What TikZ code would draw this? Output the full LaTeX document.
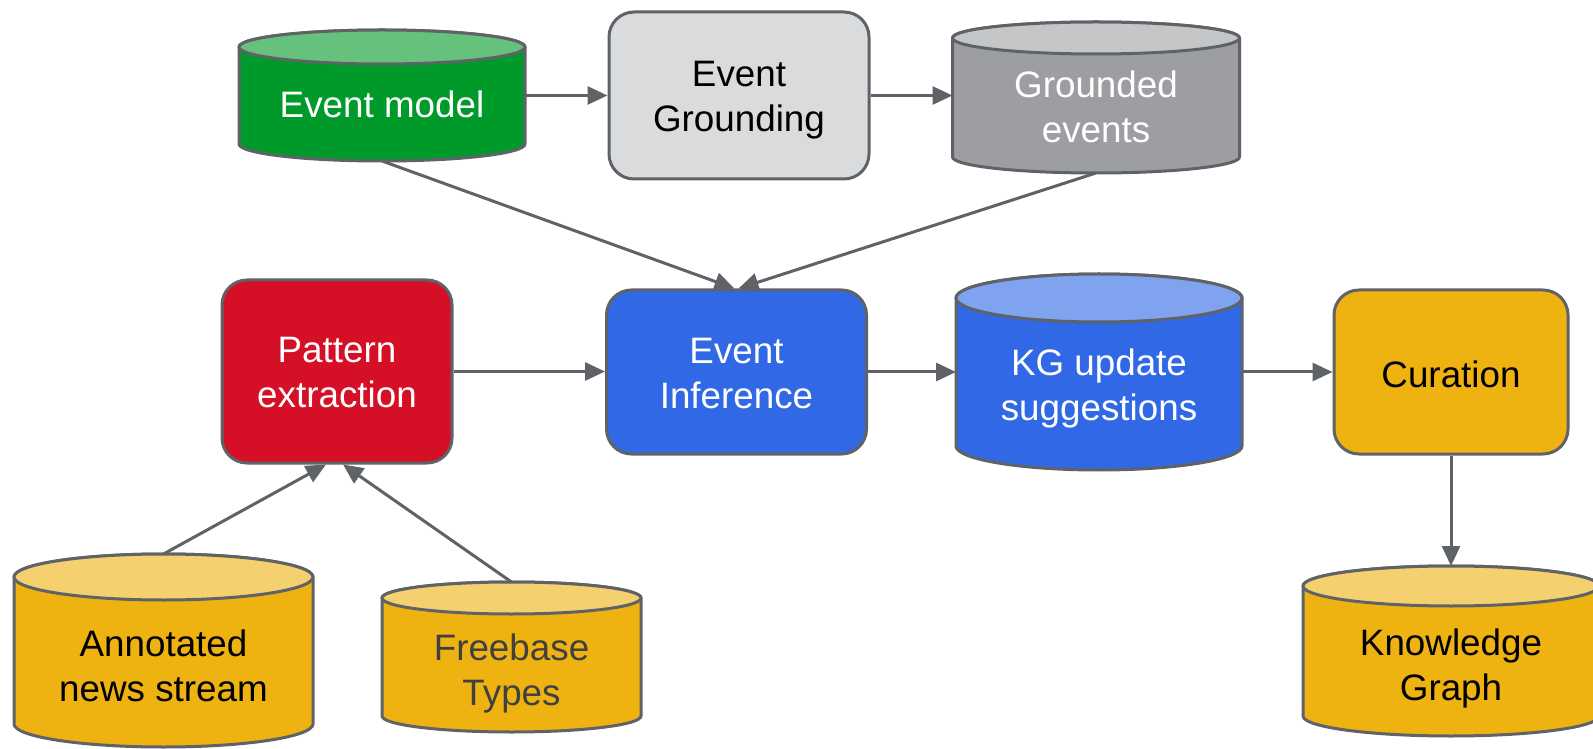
\documentclass[tikz,border=0pt]{standalone}
\usepackage{fontspec}
\setmainfont{Liberation Sans}
\usetikzlibrary{arrows.meta}
\definecolor{lc}{HTML}{5F6368}
\definecolor{gbody}{HTML}{009A2A}
\definecolor{gtop}{HTML}{66C17C}
\definecolor{greybox}{HTML}{DADBDD}
\definecolor{gcbody}{HTML}{9D9EA2}
\definecolor{gctop}{HTML}{C5C6C8}
\definecolor{redbox}{HTML}{D50F25}
\definecolor{bbody}{HTML}{3168E5}
\definecolor{btop}{HTML}{80A3F0}
\definecolor{ybody}{HTML}{EEB211}
\definecolor{ytop}{HTML}{F4D06F}
\definecolor{dtext}{HTML}{404040}
\tikzset{
  txt/.style={font=\fontsize{36.8}{45}\selectfont, align=center, inner sep=0pt},
  procbox/.style={draw=lc, line width=3pt, rounded corners=25pt, inner sep=0pt},
  arr/.style={draw=lc, line width=3pt, -{Triangle[length=20pt,width=18pt]}},
  cylline/.style={draw=lc, line width=3pt, line join=round}
}
\newcommand\dbcyl[8]{%
  \path[cylline, fill=#7] (#2-#4,#3+#5-#6) -- (#2-#4,#3-#5+#6)
     arc[start angle=180, end angle=360, x radius=#4, y radius=#6]
     -- (#2+#4,#3+#5-#6)
     arc[start angle=0, end angle=180, x radius=#4, y radius=#6] -- cycle;
  \path[cylline, fill=#8] (#2,#3+#5-#6) ellipse[x radius=#4, y radius=#6];
  \node[inner sep=0pt, outer sep=0pt, minimum width={(2*#4)*1pt}, minimum height={(2*#5)*1pt}] (#1) at (#2,#3) {};
}
\begin{document}
\begin{tikzpicture}[x=1pt,y=1pt]
\clip (0,0) rectangle (1593,748);
\useasboundingbox (0,0) rectangle (1593,748);

% cylinders
\dbcyl{em}{382}{652.5}{143}{65.5}{17}{gbody}{gtop}
\node[txt, text=white] (emt) at (382,644) {Event model};

\dbcyl{ge}{1096}{650.5}{143.5}{75.5}{16}{gcbody}{gctop}
\node[txt, text=white] (get) at (1096,641) {Grounded\\events};

\dbcyl{kg}{1099}{376}{143}{98}{24}{bbody}{btop}
\node[txt, text=white] (kgt) at (1099,360) {KG update\\suggestions};

\dbcyl{an}{163.5}{97.5}{149.5}{96.5}{23}{ybody}{ytop}
\node[txt, text=black] (ant) at (163.5,82) {Annotated\\news stream};

\dbcyl{fb}{511.5}{91}{129.5}{75}{16}{ybody}{ytop}
\node[txt, text=dtext] (fbt) at (511.5,74.5) {Freebase\\Types};

\dbcyl{kgr}{1451}{97}{148}{85}{20}{ybody}{ytop}
\node[txt, text=black] (kgrt) at (1451,80) {Knowledge\\Graph};

% process boxes
\node[procbox, fill=greybox, minimum width=260pt, minimum height=167pt] (eg) at (739,652.5) {};
\node[txt, text=black] (egt) at (739,647.5) {Event\\Grounding};
\node[procbox, fill=redbox, minimum width=230pt, minimum height=183pt] (pe) at (337,376.5) {};
\node[txt, text=white] (pet) at (337,375) {Pattern\\extraction};
\node[procbox, fill=bbody, minimum width=260pt, minimum height=164pt] (ei) at (736.5,376) {};
\node[txt, text=white] (eit) at (736.5,374.5) {Event\\Inference};
\node[procbox, fill=ybody, minimum width=234pt, minimum height=164pt] (cu) at (1451,376) {};
\node[txt, text=black] (cut) at (1451,374) {Curation};

% connectors
\draw[arr] (em.east) -- (eg.west |- em.east);
\draw[arr] (eg.east) -- (ge.west |- eg.east);
\draw[arr] (em.south) -- ([xshift=-2pt]ei.north);
\draw[arr] (ge.south) -- ([xshift=2pt]ei.north);
\draw[arr] (pe.east) -- (ei.west |- pe.east);
\draw[arr] (ei.east) -- (kg.west |- ei.east);
\draw[arr] (kg.east) -- (cu.west |- kg.east);
\draw[arr] (cu.south) -- (kgr.north);
\draw[arr] (an.north) -- ([xshift=-11pt]pe.south);
\draw[arr] (fb.north) -- ([xshift=6pt]pe.south);
\end{tikzpicture}
\end{document}
